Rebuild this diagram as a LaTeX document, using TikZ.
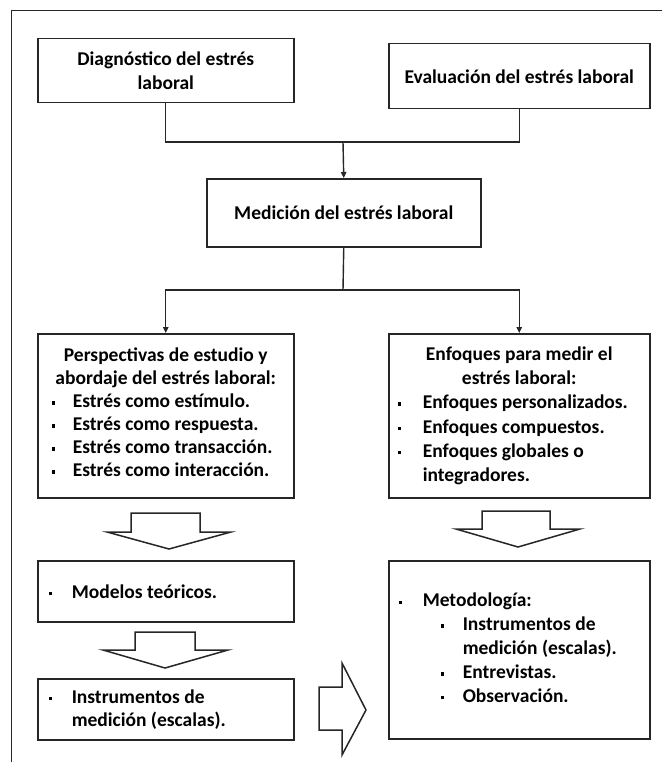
\documentclass[tikz,border=0pt]{standalone}
\usepackage{fontspec}
\setmainfont{Carlito}
\usetikzlibrary{arrows.meta}
\newcommand{\bulsq}{\rule[2.8pt]{3.6pt}{3.6pt}}
\newcommand{\bitem}[3]{\leavevmode\hspace*{#1pt}\makebox[\dimexpr #2pt - #1pt\relax][l]{\bulsq}#3\par}
\newcommand{\cont}[2]{\leavevmode\hspace*{#1pt}#2\par}
\begin{document}
\begin{tikzpicture}[x=1pt,y=-1pt,
  box/.style={draw=black!85, line width=1.5pt, inner sep=0pt, anchor=north west,
    font=\fontsize{19.5}{23.5}\selectfont\bfseries},
  conn/.style={draw=black!85, line width=1.4pt},
  arr/.style={-{Triangle[length=6pt,width=5.5pt]}},
  blk/.style={draw=black!85, line width=1.5pt, fill=white, line join=miter}]
\useasboundingbox (0,0) rectangle (662,762);
% outer frame (cropped)
\draw[conn] (662,10.5) -- (11.5,10.5) -- (11.5,762);

\node[box, minimum width=256, minimum height=64] (b1) at (37,38)
  {\parbox{256pt}{\centering Diagnóstico del estrés\\laboral}};
\node[box, minimum width=261, minimum height=65] (b2) at (388,43)
  {\parbox{261pt}{\centering Evaluación del estrés laboral}};
\node[box, minimum width=274, minimum height=68] (b3) at (206,178)
  {\parbox{274pt}{\centering Medición del estrés laboral}};

\node[box, minimum width=256, minimum height=164] (b4) at (37,333)
  {\parbox{256pt}{\fontsize{19.5}{23}\selectfont
   {\centering Perspectivas de estudio y\\abordaje del estrés laboral:\par}
   \raggedright
   \bitem{14}{35}{Estrés como estímulo.}
   \bitem{14}{35}{Estrés como respuesta.}
   \bitem{14}{35}{Estrés como transacción.}
   \bitem{14}{35}{Estrés como interacción.}\vspace*{7pt}}};

\node[box, minimum width=261, minimum height=164] (b5) at (388,333)
  {\parbox{261pt}{\fontsize{19.5}{24.2}\selectfont
   {\centering Enfoques para medir el\\estrés laboral:\par}
   \raggedright
   \bitem{9}{34}{Enfoques personalizados.}
   \bitem{9}{34}{Enfoques compuestos.}
   \bitem{9}{34}{Enfoques globales o}
   \cont{34}{integradores.}}};

\node[box, minimum width=256, minimum height=61] (b6) at (37,560)
  {\parbox{256pt}{\raggedright\bitem{11}{34}{Modelos teóricos.}}};

\node[box, minimum width=256, minimum height=61] (b7) at (37,678)
  {\parbox{256pt}{\raggedright\fontsize{19.5}{23}\selectfont
   \bitem{11}{34}{Instrumentos de}
   \cont{34}{medición (escalas).}}};

\node[box, minimum width=261, minimum height=178] (b8) at (388,560)
  {\parbox{261pt}{\raggedright\fontsize{19.5}{23.8}\selectfont
   \bitem{10}{34}{Metodología:}
   \bitem{52}{74}{Instrumentos de}
   \cont{74}{medición (escalas).}
   \bitem{52}{74}{Entrevistas.}
   \bitem{52}{74}{Observación.}\vspace*{4pt}}};

% connectors
\coordinate (j1) at (343,142);
\draw[conn] (b1.south) |- (j1) -| (b2.south);
\draw[conn, arr] (j1) -- (b3.north);
\coordinate (j2) at (343,290);
\draw[conn] (b3.south) -- (j2);
\draw[conn, arr] (j2) -| (b4.north);
\draw[conn, arr] (j2) -| (b5.north);

% block arrows
\draw[blk] (131,513) -- (200,513) -- (200,532) -- (231,532) -- (169,549) -- (107,532) -- (131,532) -- cycle;
\draw[blk] (482,511) -- (550,511) -- (550,529) -- (580,529) -- (518,547) -- (456,529) -- (482,529) -- cycle;
\draw[blk] (135,632) -- (195,632) -- (195,650) -- (228,650) -- (165,668) -- (103,650) -- (135,650) -- cycle;
\draw[blk] (319,687) -- (342,687) -- (342,663) -- (366,710) -- (342,755) -- (342,730) -- (319,730) -- cycle;
\end{tikzpicture}
\end{document}
